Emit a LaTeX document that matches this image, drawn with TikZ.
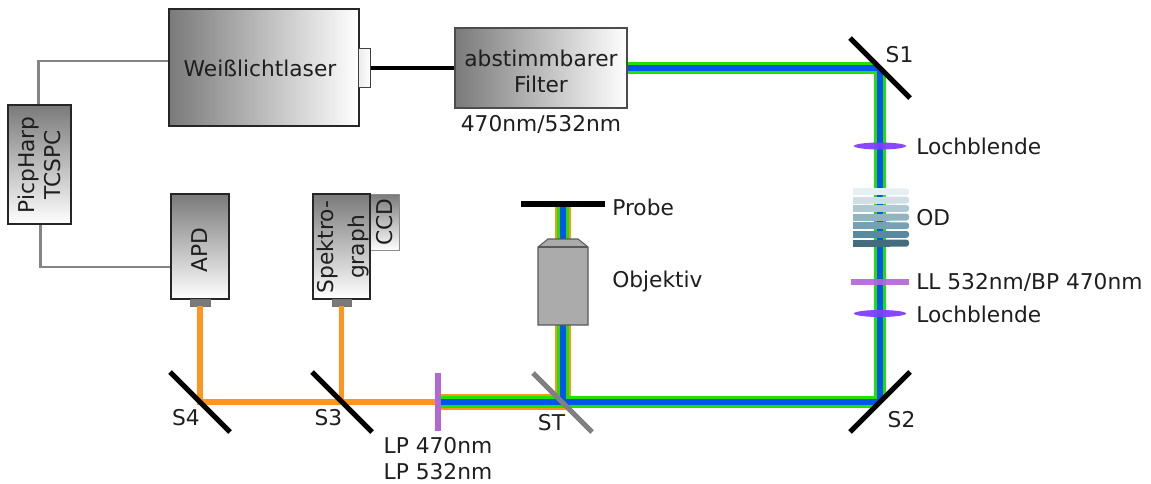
\documentclass[tikz,border=0pt]{standalone}
\usepackage{fontspec}
\setmainfont{DejaVu Sans}
\usetikzlibrary{calc}
\definecolor{bgreen}{HTML}{22E000}
\definecolor{bblue}{HTML}{0055EE}
\definecolor{borange}{HTML}{FF951E}
\definecolor{fviolet}{HTML}{B366D6}
\definecolor{pinhole}{HTML}{7F3FFF}
\definecolor{gdark}{HTML}{7A7A7A}
\definecolor{txt}{HTML}{1E1E1E}
\tikzset{
  lbl/.style={inner sep=0pt,text=txt,font=\fontsize{16.3}{19.5}\selectfont,align=center},
  sz/.style 2 args={minimum width=#1*0.75pt,minimum height=#2*0.75pt,inner sep=0pt},
  boxh/.style={draw=black!85,line width=1.1pt,left color=gdark,right color=white,lbl},
  boxv/.style={draw=black!85,line width=0.9pt,top color=gdark,bottom color=white,lbl},
  port/.style={draw=black!55,line width=0.6pt,fill=black!52},
  cable/.style={draw=black!48,line width=1.6pt},
  mirror/.style={draw=black,line width=3.8pt},
  splitter/.style={draw=black!50,line width=3.8pt},
  filterbar/.style={draw=fviolet,line width=3.8pt},
  borangebeam/.style={draw=borange,line width=3.8pt},
  wideorange/.style={draw=borange,line width=12pt,line join=miter},
  outergreen/.style={draw=bgreen,line width=8.4pt,line join=miter},
  innerblue/.style={draw=bblue,line width=4.4pt,line join=miter},
}
\begin{document}
\begin{tikzpicture}[x=0.75pt,y=-0.75pt]
\useasboundingbox (0,0) rectangle (1151,483);
% beam coordinates
\coordinate (s1) at (880,68);
\coordinate (s2) at (880,402);
\coordinate (st) at (563,402);
\coordinate (s3) at (342,402);
\coordinate (s4) at (200,402);
\coordinate (lp) at (438,402);
\coordinate (sample) at (563,204);
% boxes
\node[boxh,sz={190}{117}] (laser) at (264,67.5) {};
\node[lbl] (laserlbl) at (260,68) {Weißlichtlaser};
\node[draw=black!75,line width=0.8pt,left color=black!8,right color=white,sz={12}{39}] (lport) at (364.5,68) {};
\node[boxh,draw=black!70,sz={172}{80}] (filter) at (541,68) {};
\node[lbl] (filterlbl) at (541,71) {abstimmbarer\\Filter};
\node[boxv,sz={63}{119}] (tcspc) at (39.5,164.5) {};
\node[lbl,rotate=90,font=\fontsize{16.3}{20}\selectfont] (tcspclbl) at (39.5,165) {PicpHarp\\TCSPC};
\node[boxv,sz={58}{105}] (apd) at (200,246.5) {};
\node[lbl,rotate=90] (apdlbl) at (200,250) {APD};
\node[draw=black!45,line width=0.7pt,top color=gdark,bottom color=white,sz={29}{56}] (ccd) at (384.5,222) {};
\node[lbl,rotate=90] (ccdlbl) at (385,222) {CCD};
\node[boxv,sz={57}{105}] (spek) at (341.5,246.5) {};
\node[lbl,rotate=90,font=\fontsize{16.3}{23}\selectfont] (speklbl) at (343,247) {Spektro-\\graph};
\node[port,sz={20}{7}] (apdport) at (200,302.5) {};
\node[port,sz={19}{7}] (spekport) at (341.5,302.5) {};
% cables
\coordinate (c1) at (38.5,61);
\coordinate (c2) at (40.5,267);
\draw[cable] (tcspc.north -| c1) -- (c1) -- (c1 -| laser.west);
\draw[cable] (tcspc.south -| c2) -- (c2) -- (c2 -| apd.west);
\draw[draw=black,line width=3.6pt] (lport.east) -- (filter.west);
% detection beams
\draw[borangebeam] (apdport.south) -- (apdport.south |- s4) -- (lp);
\draw[borangebeam] (spekport.south) -- (spekport.south |- s3);
% sample path with orange
\draw[wideorange] (lp) -- (st) -- (sample);
\draw[outergreen] (lp) -- (st) -- (sample);
\draw[innerblue] (lp) -- (st) -- (sample);
% excitation path clipped at the mirrors
\begin{scope}
\clip (627,50) -- (862,50) -- (900,88) -- (900,382) -- (870,412) -- (573,412) -- (550,389) -- (550,195) -- (627,195) -- cycle;
\draw[outergreen] (filter.east) -- (s1) -- (s2) -- (st) -- (sample);
\draw[innerblue] (filter.east) -- (s1) -- (s2) -- (st) -- (sample);
\end{scope}
% mirrors
\coordinate (s1a) at (850,38); \coordinate (s1b) at (910,98);
\coordinate (s2a) at (850,432); \coordinate (s2b) at (910,372);
\coordinate (s3a) at (312,372); \coordinate (s3b) at (372,432);
\coordinate (s4a) at (170,372); \coordinate (s4b) at (230,432);
\coordinate (sta) at (533,373); \coordinate (stb) at (592,432);
\draw[mirror] (s1a) -- (s1b);
\draw[mirror] (s2a) -- (s2b);
\draw[mirror] (s3a) -- (s3b);
\draw[mirror] (s4a) -- (s4b);
\draw[splitter] (sta) -- (stb);
\coordinate (lpa) at (438,373); \coordinate (lpb) at (438,431);
\draw[filterbar] (lpa) -- (lpb);
\coordinate (pra) at (521,204); \coordinate (prb) at (605,204);
\draw[draw=black,line width=3.8pt] (pra) -- (prb);
% objective
\draw[draw=black!65,line width=0.8pt,fill=black!33] (538,325) -- (538,247) -- (548,239) -- (578,239) -- (588,247) -- (588,325) -- cycle;
\draw[draw=black!65,line width=0.8pt] (538,247) -- (588,247);
% right column optics
\foreach \yy/\col in {188.3/E8EFF3,196.7/D0DFE5,205/AEC8D4,213.7/92B3C2,222.3/76A0B3,231/578AA0,239.7/456B7E}{
  \definecolor{odc}{HTML}{\col}
  \fill[odc,rounded corners=1.9pt] (880,\yy) rectangle (909,\yy+6.8);
  \fill[odc] (853,\yy) rectangle (890,\yy+6.8);
}
\coordinate (lla) at (851,282); \coordinate (llb) at (909,282);
\draw[filterbar,opacity=0.92] (lla) -- (llb);
\fill[pinhole,opacity=0.95] (880,146) ellipse [x radius=26,y radius=3.5];
\fill[pinhole,opacity=0.95] (880,313.5) ellipse [x radius=26,y radius=3.5];
% labels
\node[lbl] (f2) at (541,124) {470nm/532nm};
\node[lbl,anchor=west] (l1) at (916,146) {Lochblende};
\node[lbl,anchor=west] (l2) at (916,218) {OD};
\node[lbl,anchor=west] (l3) at (916,282) {LL 532nm/BP 470nm};
\node[lbl,anchor=west] (l4) at (916,314) {Lochblende};
\node[lbl,anchor=west] (l5) at (612,207) {Probe};
\node[lbl,anchor=west] (l6) at (612,281) {Objektiv};
\node[lbl] (t1) at (899.5,55) {S1};
\node[lbl] (t2) at (901.5,420) {S2};
\node[lbl] (t3) at (551.5,423) {ST};
\node[lbl] (t4) at (328.5,418) {S3};
\node[lbl] (t5) at (186,418) {S4};
\node[lbl] (t6) at (438,459) {LP 470nm\\LP 532nm};
\end{tikzpicture}
\end{document}
